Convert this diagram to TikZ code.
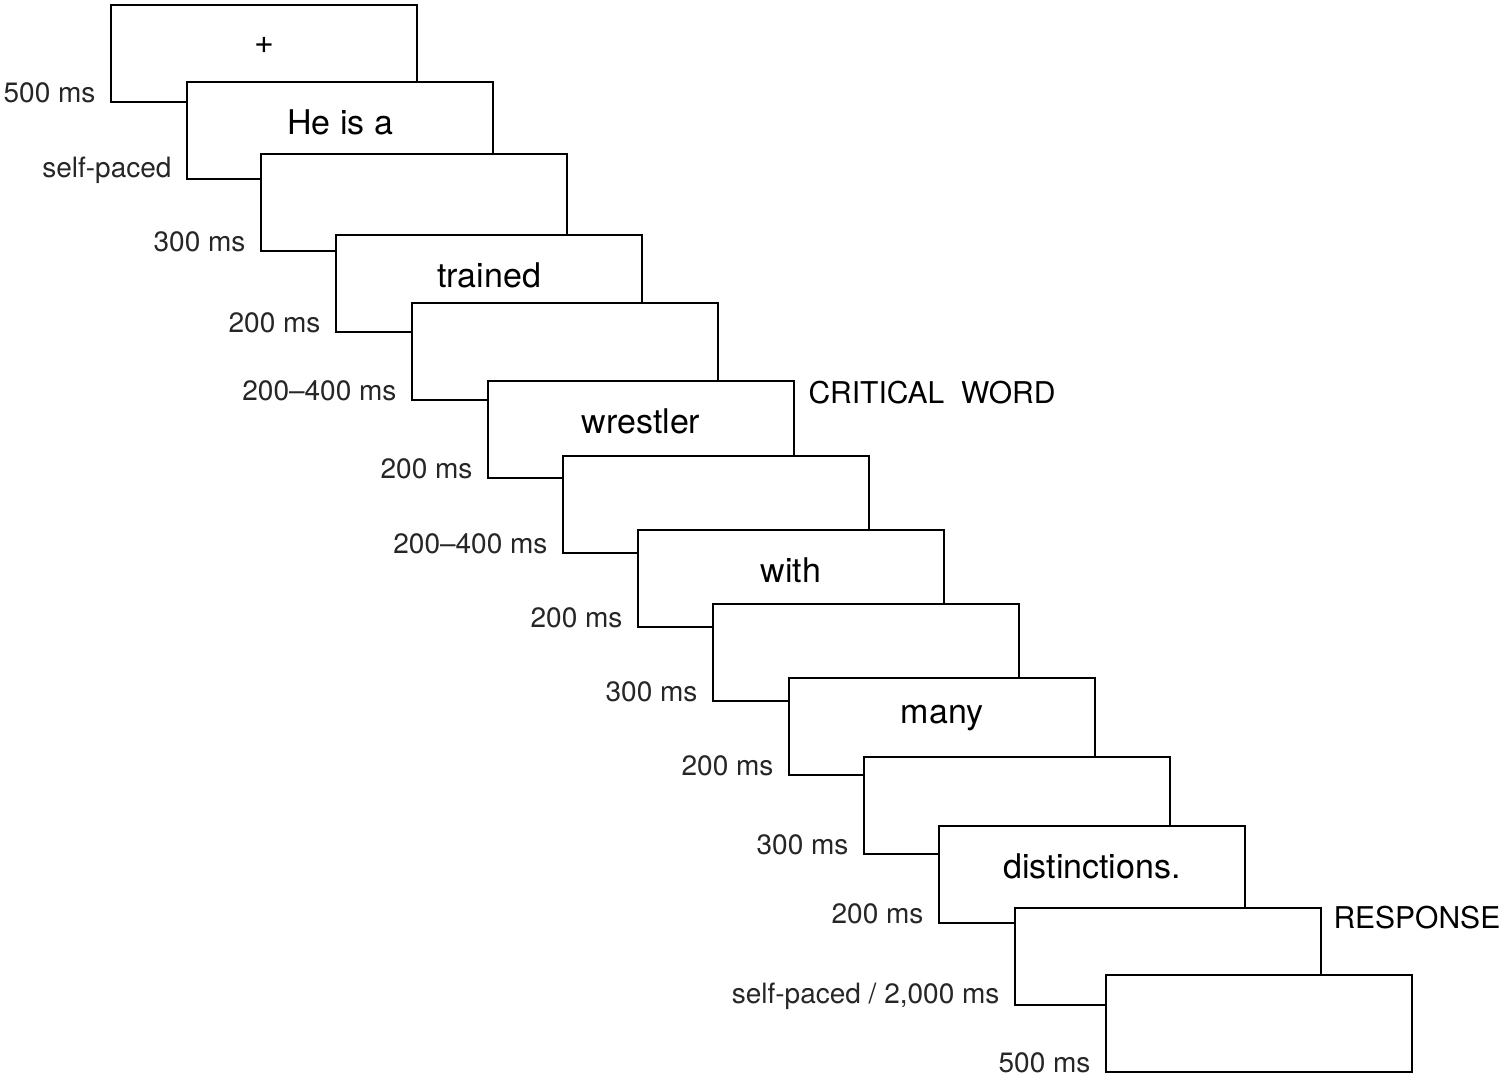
\documentclass[tikz,border=0pt]{standalone}
\usepackage{fontspec}
\setmainfont{TeX Gyre Heros}
\usetikzlibrary{positioning}
\tikzset{
  screen/.style={rectangle, draw=black, fill=white, line width=2pt, minimum width=306pt, minimum height=97pt, anchor=north west, inner sep=0pt},
  word/.style={font=\fontsize{34}{34}\selectfont},
  dur/.style={anchor=east, font=\fontsize{28}{28}\selectfont\color{black!85}},
  tag/.style={anchor=west, font=\fontsize{30}{30}\selectfont}
}
\begin{document}
\begin{tikzpicture}[x=1pt,y=-1pt]
\useasboundingbox (0,0) rectangle (1506,1085);
\foreach \i/\x/\y/\w/\d in {1/110/4/{+}/{500 ms},
  2/186/81/{He is a}/{self-paced},
  3/260/153/{}/{300 ms},
  4/335/234/{trained}/{200 ms},
  5/411/302/{}/{200--400 ms},
  6/487/380/{wrestler}/{200 ms},
  7/562/455/{}/{200--400 ms},
  8/637/529/{with}/{200 ms},
  9/712/603/{}/{300 ms},
  10/788/677/{many}/{200 ms},
  11/863/756/{}/{300 ms},
  12/938/825/{distinctions.}/{200 ms},
  13/1014/907/{}/{self-paced / 2,000 ms},
  14/1105/974/{}/{500 ms}}
{
  \node (b\i) [screen] at (\x,\y) {};
  \node (w\i) [word] at ([yshift=8pt]b\i.center) {\w};
  \node (d\i) [dur] at ([xshift=-11pt, yshift=10pt]b\i.south west) {\d};
}
\node (crit) [tag] at ([xshift=10pt, yshift=-13pt]b6.north east) {CRITICAL\ \ WORD};
\node (resp) [tag] at ([xshift=8pt, yshift=-11pt]b13.north east) {RESPONSE};
\end{tikzpicture}
\end{document}
